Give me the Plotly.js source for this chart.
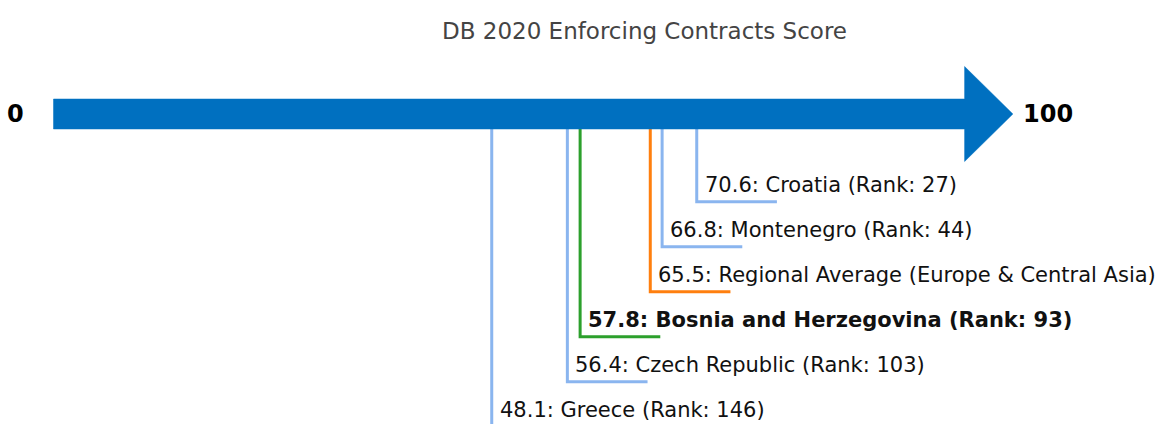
<!DOCTYPE html>
<html>
<head>
<meta charset="utf-8">
<script src="https://cdn.plot.ly/plotly-3.0.1.min.js"></script>
<style>html,body{margin:0;padding:0;background:#fff;}#chart{width:1155px;height:424px;}</style>
</head>
<body>
<div id="chart"></div>
<script>
// ---- data ----
const chartTitle = 'DB 2020 Enforcing Contracts Score';
const scaleMin = 0;
const scaleMax = 100;
const names = ['Croatia', 'Montenegro', 'Regional Average (Europe & Central Asia)', 'Bosnia and Herzegovina', 'Czech Republic', 'Greece'];
const scores = [70.6, 66.8, 65.5, 57.8, 56.4, 48.1];
const ranks = [27, 44, null, 93, 103, 146];
const roles = ['peer', 'peer', 'region', 'focus', 'peer', 'peer'];

// ---- styles ----
const FONT = 'DejaVu Sans, Verdana, sans-serif';
const arrowColor = '#0070C0';
const roleColor = {peer: '#8AB5EF', region: '#FF7F0E', focus: '#2CA02C'};
const W = 1155, H = 424;
// x: pixel = 53.5 + 9.111 * value
const pxPerUnit = 9.111, x0px = 53.5;
const xRange = [(0 - x0px) / pxPerUnit, (W - x0px) / pxPerUnit];
const arrowY = 114, shaftHalf = 15, headHalf = 47.5, headLen = 5.3;
const firstLevel = 201.7, levelStep = 45, leaderLen = 8.8;

const traces = [];
const annotations = [];

// order by score descending -> stagger levels
const order = scores.map((s, i) => i).sort((a, b) => scores[b] - scores[a]);
order.forEach((idx, lvl) => {
  const v = scores[idx];
  const yl = firstLevel + levelStep * lvl;
  const col = roleColor[roles[idx]];
  traces.push({
    type: 'scatter', mode: 'lines',
    x: [v, v, v + leaderLen], y: [arrowY, yl, yl],
    line: {color: col, width: 3}, hoverinfo: 'skip', showlegend: false
  });
  let txt = v.toFixed(1) + ': ' + names[idx] + (ranks[idx] != null ? ' (Rank: ' + ranks[idx] + ')' : '');
  if (roles[idx] === 'focus') txt = '<b>' + txt + '</b>';
  annotations.push({
    x: v, y: yl - 17, xref: 'x', yref: 'y', text: txt, showarrow: false,
    xanchor: 'left', yanchor: 'middle', xshift: 6,
    font: {family: FONT, size: 21, color: '#111'}
  });
});

// arrow
traces.push({
  type: 'scatter', mode: 'lines', fill: 'toself', fillcolor: arrowColor,
  x: [scaleMin, scaleMax, scaleMax, scaleMax + headLen, scaleMax, scaleMax, scaleMin, scaleMin],
  y: [arrowY - shaftHalf, arrowY - shaftHalf, arrowY - headHalf, arrowY, arrowY + headHalf, arrowY + shaftHalf, arrowY + shaftHalf, arrowY - shaftHalf],
  line: {color: arrowColor, width: 0.5}, hoverinfo: 'skip', showlegend: false
});

annotations.push({
  x: scaleMin, y: arrowY, xref: 'x', yref: 'y', text: '<b>' + scaleMin + '</b>', showarrow: false,
  xanchor: 'right', yanchor: 'middle', xshift: -28,
  font: {family: FONT, size: 24, color: '#000'}
});
annotations.push({
  x: scaleMax + headLen, y: arrowY, xref: 'x', yref: 'y', text: '<b>' + scaleMax + '</b>', showarrow: false,
  xanchor: 'left', yanchor: 'middle', xshift: 8,
  font: {family: FONT, size: 24, color: '#000'}
});

const layout = {
  width: W, height: H,
  margin: {l: 0, r: 0, t: 0, b: 0, pad: 0},
  paper_bgcolor: '#fff', plot_bgcolor: '#fff',
  title: {text: chartTitle, x: 644.5 / W, xanchor: 'center', xref: 'paper',
          y: 1 - 31 / H, yanchor: 'middle', yref: 'container',
          font: {family: FONT, size: 23, color: '#444'}},
  xaxis: {range: xRange, visible: false, fixedrange: true},
  yaxis: {range: [H, 0], visible: false, fixedrange: true},
  annotations: annotations,
  showlegend: false
};

Plotly.newPlot('chart', traces, layout, {displayModeBar: false, staticPlot: true});
</script>
</body>
</html>
